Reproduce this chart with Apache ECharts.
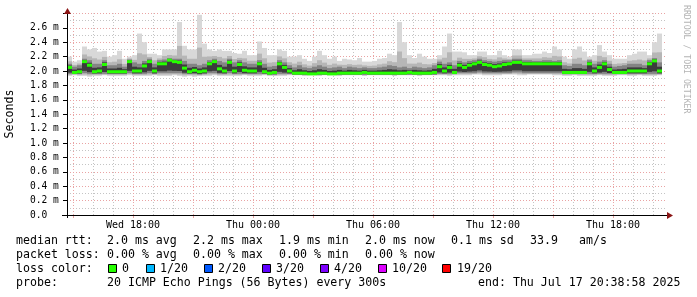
<!DOCTYPE html>
<html><head><meta charset="utf-8">
<script src="https://cdn.jsdelivr.net/npm/echarts@6/dist/echarts.min.js"></script>
<style>html,body{margin:0;padding:0;background:#fff}#c{width:697px;height:297px}</style>
</head><body><div id="c"></div>
<script>
// ---- time frame (hours since Wed 00:00) ----
const startHour = 14.7;   // Wed 14:42
const endHour = 44.7;     // Thu 20:42
const stepHours = 0.25;   // one smoke column = 15 min

// ---- median rtt (ms) per column ----
const median = [
 2.05,1.98,1.99,2.13,2.08,1.99,2.00,2.09,1.99,1.99,1.99,1.99,2.13,2.00,2.00,2.07,2.13,2.00,2.10,2.10,
 2.15,2.13,2.12,2.04,1.99,2.01,1.99,2.00,2.10,2.13,2.03,2.00,2.12,2.00,2.09,2.01,2.00,2.00,2.10,1.99,
 1.97,1.98,2.10,2.05,2.00,
 1.97,1.97,1.97,1.96,1.96,1.97,1.97,1.96,1.96,1.97,1.97,1.97,1.97,1.97,1.98,1.97,1.97,1.97,1.97,1.97,
 1.97,1.97,1.97,1.98,1.97,1.97,1.97,1.97,1.98,
 2.06,2.00,2.05,1.98,2.08,2.05,2.08,2.10,2.12,2.09,2.08,2.06,2.07,2.09,2.10,2.12,2.12,2.10,
 2.10,2.10,2.10,2.10,2.10,2.10,2.10,
 1.98,1.98,1.98,1.98,1.98,
 2.10,2.00,2.05,2.10,2.02,1.98,1.98,1.98,2.00,2.00,2.00,2.00,2.10,2.14,2.00
];
// ---- smoke: lowest ping, lower core, upper core, highest ping (ms) ----
const smokeMin = [
 1.93,1.94,1.93,1.93,1.92,1.93,1.93,1.94,1.93,1.93,1.93,1.93,1.94,1.93,1.93,1.93,1.93,1.94,1.93,1.93,
 1.93,1.94,1.93,1.92,1.93,1.92,1.93,1.93,1.93,1.94,1.93,1.93,1.93,1.93,1.93,1.94,1.93,1.93,1.93,1.94,
 1.93,1.93,1.93,1.93,1.94,
 1.94,1.94,1.93,1.94,1.94,1.93,1.94,1.94,1.94,1.93,1.94,1.94,1.94,1.94,1.93,1.94,1.94,1.94,1.94,1.94,
 1.93,1.94,1.94,1.94,1.94,1.93,1.94,1.94,1.94,
 1.94,1.94,1.93,1.94,1.94,1.94,1.94,1.95,1.95,1.94,1.94,1.94,1.94,1.95,1.95,1.95,1.94,1.94,1.95,1.95,
 1.95,1.95,1.95,1.94,1.94,
 1.93,1.93,1.94,1.93,1.93,1.93,1.93,1.94,1.93,1.93,1.93,1.94,1.94,1.93,1.93,1.94,1.93,1.93,1.93,1.94
];
const smokeLow = [
 1.96,1.96,1.96,1.97,1.96,1.96,1.96,1.96,1.96,1.96,1.96,1.96,1.97,1.96,1.96,1.96,1.97,1.96,1.97,1.97,
 1.97,1.97,1.97,1.96,1.96,1.96,1.95,1.96,1.97,1.97,1.96,1.96,1.97,1.96,1.96,1.96,1.96,1.96,1.96,1.96,
 1.95,1.95,1.96,1.96,1.96,
 1.95,1.95,1.95,1.95,1.95,1.95,1.95,1.95,1.95,1.95,1.95,1.95,1.95,1.95,1.95,1.95,1.95,1.95,1.95,1.95,
 1.95,1.95,1.95,1.95,1.95,1.95,1.95,1.95,1.95,
 1.96,1.96,1.96,1.96,1.97,1.97,1.97,1.97,1.98,1.97,1.97,1.97,1.97,1.97,1.97,1.98,1.98,1.97,1.97,1.97,
 1.97,1.97,1.97,1.97,1.97,
 1.96,1.96,1.96,1.96,1.96,1.96,1.96,1.96,1.96,1.96,1.96,1.96,1.96,1.96,1.96,1.96,1.96,1.96,1.96,1.96
];
const smokeHigh = [
 2.10,2.06,2.08,2.17,2.15,2.10,2.10,2.15,2.08,2.08,2.10,2.06,2.16,2.12,2.10,2.14,2.17,2.10,2.15,2.16,
 2.18,2.17,2.17,2.14,2.10,2.10,2.08,2.10,2.15,2.17,2.14,2.12,2.17,2.12,2.15,2.12,2.10,2.10,2.15,2.10,
 2.06,2.07,2.15,2.12,2.08,
 2.05,2.08,2.05,2.04,2.06,2.08,2.06,2.04,2.05,2.06,2.04,2.06,2.05,2.04,2.05,2.04,2.04,2.05,2.06,2.08,
 2.07,2.05,2.06,2.04,2.06,2.05,2.04,2.05,2.08,
 2.13,2.10,2.12,2.08,2.14,2.12,2.14,2.15,2.17,2.15,2.14,2.13,2.14,2.15,2.15,2.17,2.17,2.15,2.15,2.14,
 2.14,2.15,2.15,2.14,2.15,
 2.08,2.07,2.10,2.10,2.08,2.15,2.10,2.13,2.15,2.10,2.06,2.07,2.08,2.10,2.10,2.10,2.08,2.15,2.18,2.12
];
const smokeMax = [
 2.20,2.13,2.15,2.34,2.30,2.32,2.27,2.28,2.20,2.22,2.28,2.17,2.20,2.22,2.52,2.40,2.24,2.24,2.22,2.30,
 2.30,2.30,2.68,2.35,2.30,2.30,2.78,2.38,2.30,2.28,2.30,2.28,2.28,2.25,2.24,2.28,2.22,2.22,2.41,2.32,
 2.22,2.22,2.30,2.28,2.20,
 2.20,2.22,2.17,2.14,2.20,2.28,2.22,2.17,2.20,2.14,2.17,2.16,2.15,2.18,2.13,2.13,2.14,2.17,2.18,2.24,
 2.22,2.68,2.40,2.22,2.18,2.24,2.20,2.17,2.17,
 2.22,2.34,2.52,2.27,2.27,2.26,2.22,2.22,2.27,2.27,2.22,2.22,2.28,2.22,2.20,2.30,2.30,2.22,2.22,2.24,
 2.24,2.27,2.25,2.34,2.30,
 2.20,2.17,2.30,2.34,2.27,2.20,2.22,2.36,2.27,2.22,2.17,2.17,2.17,2.22,2.24,2.27,2.27,2.22,2.40,2.52
];

// ---- axes ----
const yMax = 2.8;
const xTickPos = [18, 24, 30, 36, 42];
const xTickLabels = ['Wed 18:00', 'Thu 00:00', 'Thu 06:00', 'Thu 12:00', 'Thu 18:00'];
const majorGridHours = [15, 18, 21, 24, 27, 30, 33, 36, 39, 42];
const minorGridHours = [16, 17, 19, 20, 22, 23, 25, 26, 28, 29, 31, 32, 34, 35, 37, 38, 40, 41, 43, 44];

// ---- legend texts ----
const statRtt = ['2.0 ms avg', '2.2 ms max', '1.9 ms min', '2.0 ms now', '0.1 ms sd', '33.9', 'am/s'];
const statLoss = ['0.00 % avg', '0.00 % max', '0.00 % min', '0.00 % now'];
const lossLabels = ['0', '1/20', '2/20', '3/20', '4/20', '10/20', '19/20'];
const lossColors = ['#26ff00', '#00b8ff', '#0059ff', '#5e00ff', '#7e00ff', '#dd00ff', '#ff0000'];
const probeText = '20 ICMP Echo Pings (56 Bytes) every 300s';
const endText = 'end: Thu Jul 17 20:38:58 2025';

const MONO = '"DejaVu Sans Mono", monospace';
const MAJOR_C = '#e9a3a3';
const MINOR_C = '#c4c4c4';

const smokeData = median.map((m, i) => [startHour + i * stepHours, smokeMin[i], smokeLow[i], smokeHigh[i], smokeMax[i], m]);

function colRect(api, t, a, b) {
  const p1 = api.coord([t, b]);
  const p2 = api.coord([t + stepHours, a]);
  return { x: p1[0], y: p1[1], width: p2[0] - p1[0], height: p2[1] - p1[1] };
}

function renderSmoke(params, api) {
  const t = api.value(0), lo = api.value(1), ql = api.value(2), qh = api.value(3), hi = api.value(4), m = api.value(5);
  const midLo = lo + (ql - lo) * 0.5;
  const midHi = qh + (hi - qh) * 0.35;
  const coreLo = ql + (m - ql) * 0.2;
  const coreHi = m + (qh - m) * 0.5;
  return {
    type: 'group',
    children: [
      { type: 'rect', shape: colRect(api, t, lo, hi), style: { fill: '#d8d8d8' } },
      { type: 'rect', shape: colRect(api, t, midLo, midHi), style: { fill: '#b6b6b6' } },
      { type: 'rect', shape: colRect(api, t, ql, qh), style: { fill: '#848484' } },
      { type: 'rect', shape: colRect(api, t, coreLo, coreHi), style: { fill: '#3c3c3c' } }
    ]
  };
}
function renderMedian(params, api) {
  const t = api.value(0), m = api.value(1);
  const p1 = api.coord([t, m]);
  const p2 = api.coord([t + stepHours, m]);
  return { type: 'rect', shape: { x: p1[0], y: p1[1] - 1.5, width: p2[0] - p1[0], height: 3 }, style: { fill: lossColors[0] } };
}
function vGrid(color, tick) {
  return function (params, api) {
    const v = api.value(0);
    const p0 = api.coord([v, 0]);
    const p1 = api.coord([v, yMax]);
    const x = Math.round(p0[0]) + 0.5;
    const ch = [{ type: 'line', shape: { x1: x, y1: p0[1], x2: x, y2: p1[1] }, style: { stroke: color, lineWidth: 1, lineDash: [1, 2] } }];
    if (tick) ch.push({ type: 'line', shape: { x1: x, y1: p0[1], x2: x, y2: p0[1] + 3 }, style: { stroke: color, lineWidth: 1 } });
    return { type: 'group', children: ch };
  };
}

const graphics = [];
function txt(x, y, s) {
  graphics.push({ type: 'text', x: x, y: y, style: { text: s, font: '11.6px ' + MONO, fill: '#000', textAlign: 'left', textVerticalAlign: 'middle' } });
}
txt(16, 241, 'median rtt:');
[107, 193, 279, 365, 451, 530, 579].forEach((x, i) => txt(x, 241, statRtt[i]));
txt(16, 255, 'packet loss:');
[107, 193, 279, 365].forEach((x, i) => txt(x, 255, statLoss[i]));
txt(16, 269, 'loss color:');
const boxX = [108, 146, 204, 262, 320, 378, 442];
const lblX = [122, 160, 218, 276, 334, 392, 457];
lossLabels.forEach((l, i) => {
  graphics.push({ type: 'rect', shape: { x: boxX[i] + 0.5, y: 264.5, width: 8, height: 8 }, style: { fill: lossColors[i], stroke: '#000', lineWidth: 1 } });
  txt(lblX[i], 269, l);
});
txt(16, 283, 'probe:');
txt(107, 283, probeText);
txt(478, 283, endText);
graphics.push({ type: 'text', x: 10, y: 114, rotation: Math.PI / 2, style: { text: 'Seconds', font: '11.6px ' + MONO, fill: '#000', textAlign: 'center', textVerticalAlign: 'middle' } });
graphics.push({ type: 'text', x: 686, y: 5, rotation: -Math.PI / 2, style: { text: 'RRDTOOL / TOBI OETIKER', font: '8.2px ' + MONO, fill: '#b4b4b4', textAlign: 'left', textVerticalAlign: 'middle' } });
// axis extensions and arrows
graphics.push({ type: 'line', shape: { x1: 62, y1: 215.5, x2: 668, y2: 215.5 }, style: { stroke: '#000', lineWidth: 1 }, z: 50 });
graphics.push({ type: 'line', shape: { x1: 67.5, y1: 218, x2: 67.5, y2: 12 }, style: { stroke: '#000', lineWidth: 1 }, z: 50 });
graphics.push({ type: 'polygon', shape: { points: [[667, 212], [673, 215.5], [667, 219]] }, style: { fill: '#8b1515' }, z: 51 });
graphics.push({ type: 'polygon', shape: { points: [[64, 14], [67.5, 8], [71, 14]] }, style: { fill: '#8b1515' }, z: 51 });

const chart = echarts.init(document.getElementById('c'), null, { renderer: 'canvas' });
chart.setOption({
  backgroundColor: '#ffffff',
  animation: false,
  grid: { left: 67, right: 30, top: 215 - yMax * 72, bottom: 82, containLabel: false },
  xAxis: {
    type: 'value', min: startHour, max: endHour,
    axisLine: { show: false },
    splitLine: { show: false },
    axisTick: { show: false },
    axisLabel: {
      customValues: xTickPos,
      formatter: v => { const k = xTickPos.indexOf(Math.round(v)); return k >= 0 ? xTickLabels[k] : ''; },
      fontFamily: 'DejaVu Sans Mono', fontSize: 10, color: '#000', margin: 5
    }
  },
  yAxis: {
    type: 'value', min: 0, max: yMax, interval: 0.2,
    axisLine: { show: false },
    axisTick: { show: true, length: 4, lineStyle: { color: '#000' } },
    splitLine: { show: true, lineStyle: { color: MAJOR_C, type: [1, 2], width: 1 } },
    minorTick: { show: false, splitNumber: 2 },
    minorSplitLine: { show: true, lineStyle: { color: MINOR_C, type: [1, 2], width: 1 } },
    axisLabel: {
      align: 'left', margin: 37,
      formatter: v => { if (v > 2.65) return ''; if (Math.abs(v) < 1e-9) return '0.0'; return v.toFixed(1) + ' m'; },
      fontFamily: 'DejaVu Sans Mono', fontSize: 9.6, color: '#000'
    }
  },
  graphic: graphics,
  series: [
    { type: 'custom', name: 'minorgrid', z: 1, silent: true, data: minorGridHours.map(h => [h]), renderItem: vGrid(MINOR_C, false) },
    { type: 'custom', name: 'majorgrid', z: 1, silent: true, data: majorGridHours.map(h => [h]), renderItem: vGrid(MAJOR_C, true) },
    { type: 'custom', name: 'smoke', z: 2, silent: true, data: smokeData, renderItem: renderSmoke },
    { type: 'custom', name: 'median', z: 3, silent: true, data: median.map((m, i) => [startHour + i * stepHours, m]), renderItem: renderMedian }
  ]
});
</script></body></html>
